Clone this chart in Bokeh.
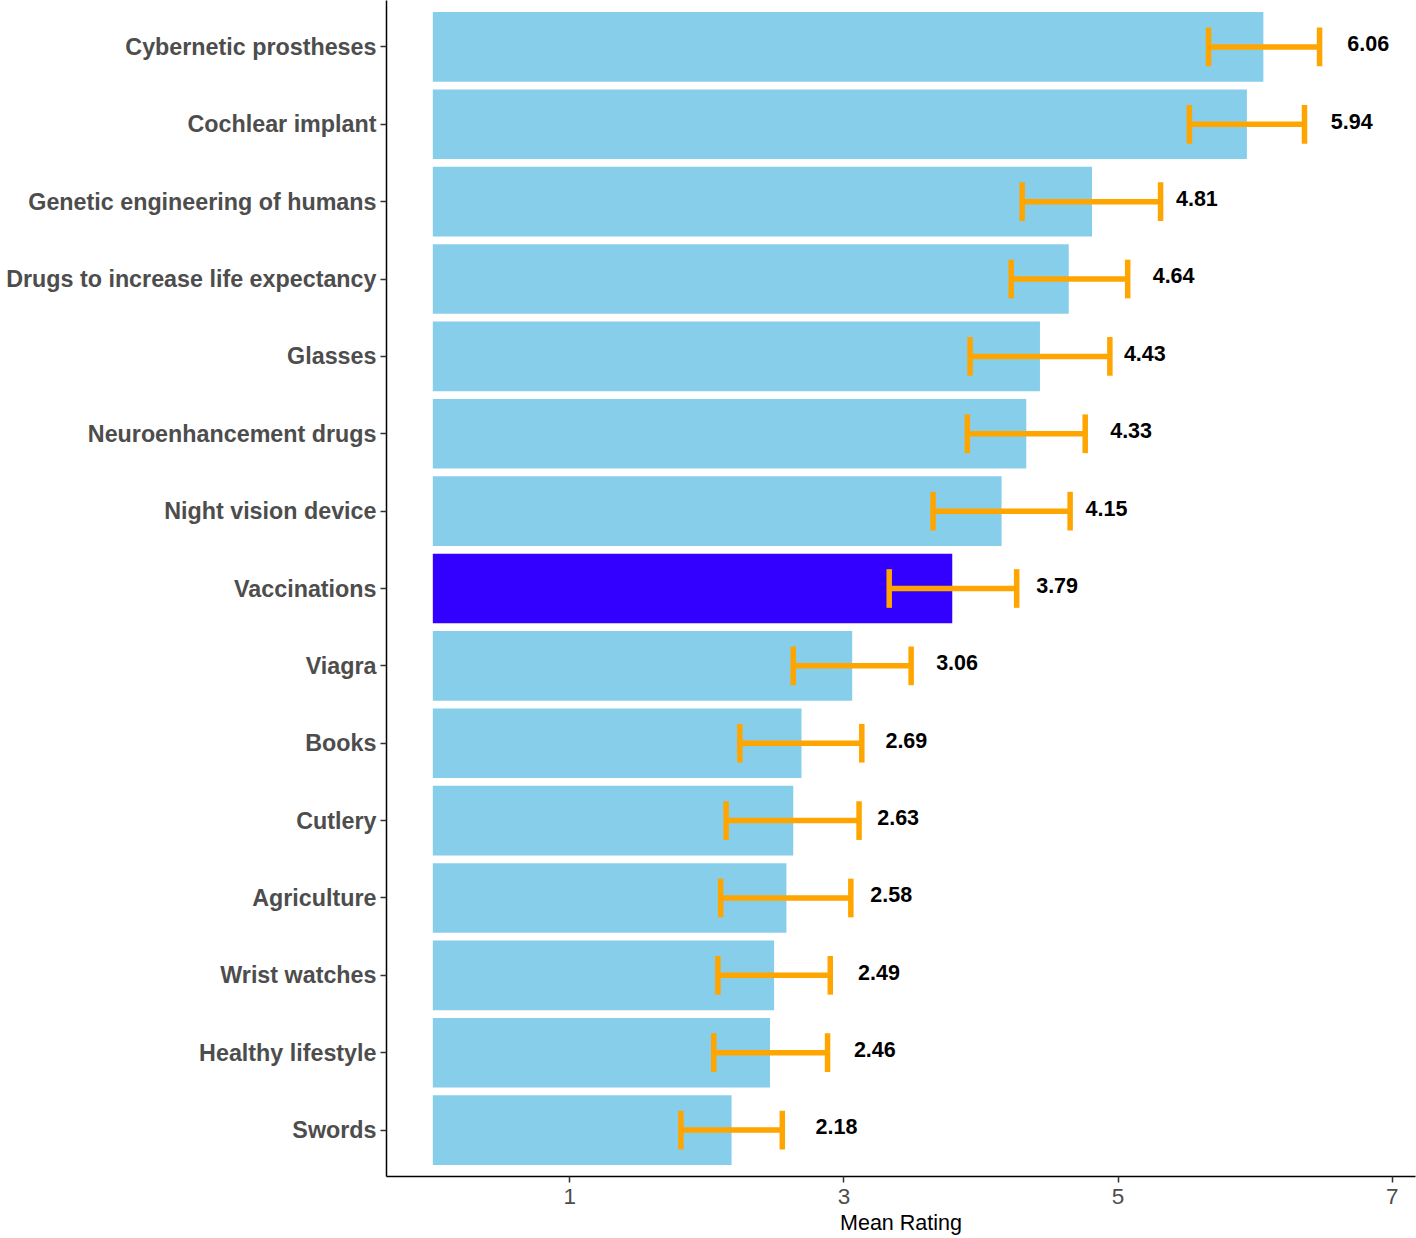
from bokeh.plotting import figure
from bokeh.models import ColumnDataSource, Range1d, FixedTicker
from bokeh.core.properties import value
from bokeh.embed import file_html
from bokeh.resources import INLINE

# Data (top to bottom)
items = ["Cybernetic prostheses", "Cochlear implant", "Genetic engineering of humans",
         "Drugs to increase life expectancy", "Glasses", "Neuroenhancement drugs",
         "Night vision device", "Vaccinations", "Viagra", "Books", "Cutlery",
         "Agriculture", "Wrist watches", "Healthy lifestyle", "Swords"]
means = [6.06, 5.94, 4.81, 4.64, 4.43, 4.33, 4.15, 3.79, 3.06, 2.69, 2.63, 2.58, 2.49, 2.46, 2.18]
lower = [5.66, 5.52, 4.30, 4.22, 3.92, 3.90, 3.65, 3.33, 2.63, 2.24, 2.14, 2.10, 2.08, 2.05, 1.81]
upper = [6.47, 6.36, 5.31, 5.07, 4.94, 4.76, 4.65, 4.26, 3.49, 3.13, 3.11, 3.05, 2.90, 2.88, 2.55]
highlight = "Vaccinations"
x_ticks = [1, 3, 5, 7]

n = len(items)
ypos = [n - i for i in range(n)]
colors = ["#3300FF" if it == highlight else "#87CEEB" for it in items]
label_offset = 0.765
cap = 0.25

src = ColumnDataSource(dict(
    y=ypos, mean=means, lo=lower, hi=upper, color=colors,
    cap_lo=[y - cap for y in ypos], cap_hi=[y + cap for y in ypos],
    lx=[m + label_offset for m in means], ly=[y + 0.04 for y in ypos],
    txt=["%.2f" % m for m in means],
))

FONT = "Liberation Sans"

p = figure(width=1416, height=1238, output_backend="svg", toolbar_location=None,
           x_range=Range1d(-0.338, 7.17), y_range=Range1d(0.4, n + 0.6))
p.min_border_left = 386
p.min_border_top = 0
p.min_border_right = 1
p.min_border_bottom = 62
p.outline_line_color = None
p.xgrid.visible = False
p.ygrid.visible = False
p.background_fill_color = "white"
p.border_fill_color = "white"

p.hbar(y="y", left=0, right="mean", height=0.9, fill_color="color", line_color=None, source=src)
p.segment(x0="lo", x1="hi", y0="y", y1="y", line_color="#FFA500", line_width=5.5, source=src)
p.segment(x0="lo", x1="lo", y0="cap_lo", y1="cap_hi", line_color="#FFA500", line_width=5.5, source=src)
p.segment(x0="hi", x1="hi", y0="cap_lo", y1="cap_hi", line_color="#FFA500", line_width=5.5, source=src)
p.text(x="lx", y="ly", text="txt", source=src, text_align="center", text_baseline="middle",
       text_font=value(FONT), text_font_style="bold", text_font_size="21.5px", text_color="black")

# y axis
ya = p.yaxis[0]
ya.ticker = FixedTicker(ticks=ypos)
ya.major_label_overrides = {y: it for y, it in zip(ypos, items)}
ya.major_label_text_font = FONT
ya.major_label_text_font_style = "bold"
ya.major_label_text_font_size = "23.3px"
ya.major_label_text_color = "#4D4D4D"
ya.major_tick_out = 6
ya.major_tick_in = 0
ya.minor_tick_line_color = None
ya.major_tick_line_color = "#333333"
ya.major_tick_line_width = 1.5
ya.axis_line_color = "black"
ya.axis_line_width = 1.5
ya.major_label_standoff = 4

# x axis
xa = p.xaxis[0]
xa.ticker = FixedTicker(ticks=x_ticks)
xa.major_label_text_font = FONT
xa.major_label_text_font_size = "22.5px"
xa.major_label_text_color = "#4D4D4D"
xa.major_tick_out = 6
xa.major_tick_in = 0
xa.minor_tick_line_color = None
xa.major_tick_line_color = "#333333"
xa.major_tick_line_width = 1.5
xa.axis_line_color = "black"
xa.axis_line_width = 1.5
xa.major_label_standoff = 6
xa.axis_label = "Mean Rating"
xa.axis_label_text_font = FONT
xa.axis_label_text_font_style = "normal"
xa.axis_label_text_font_size = "21.5px"
xa.axis_label_text_color = "black"
xa.axis_label_standoff = 4

open("out.html", "w").write(file_html(p, INLINE))
